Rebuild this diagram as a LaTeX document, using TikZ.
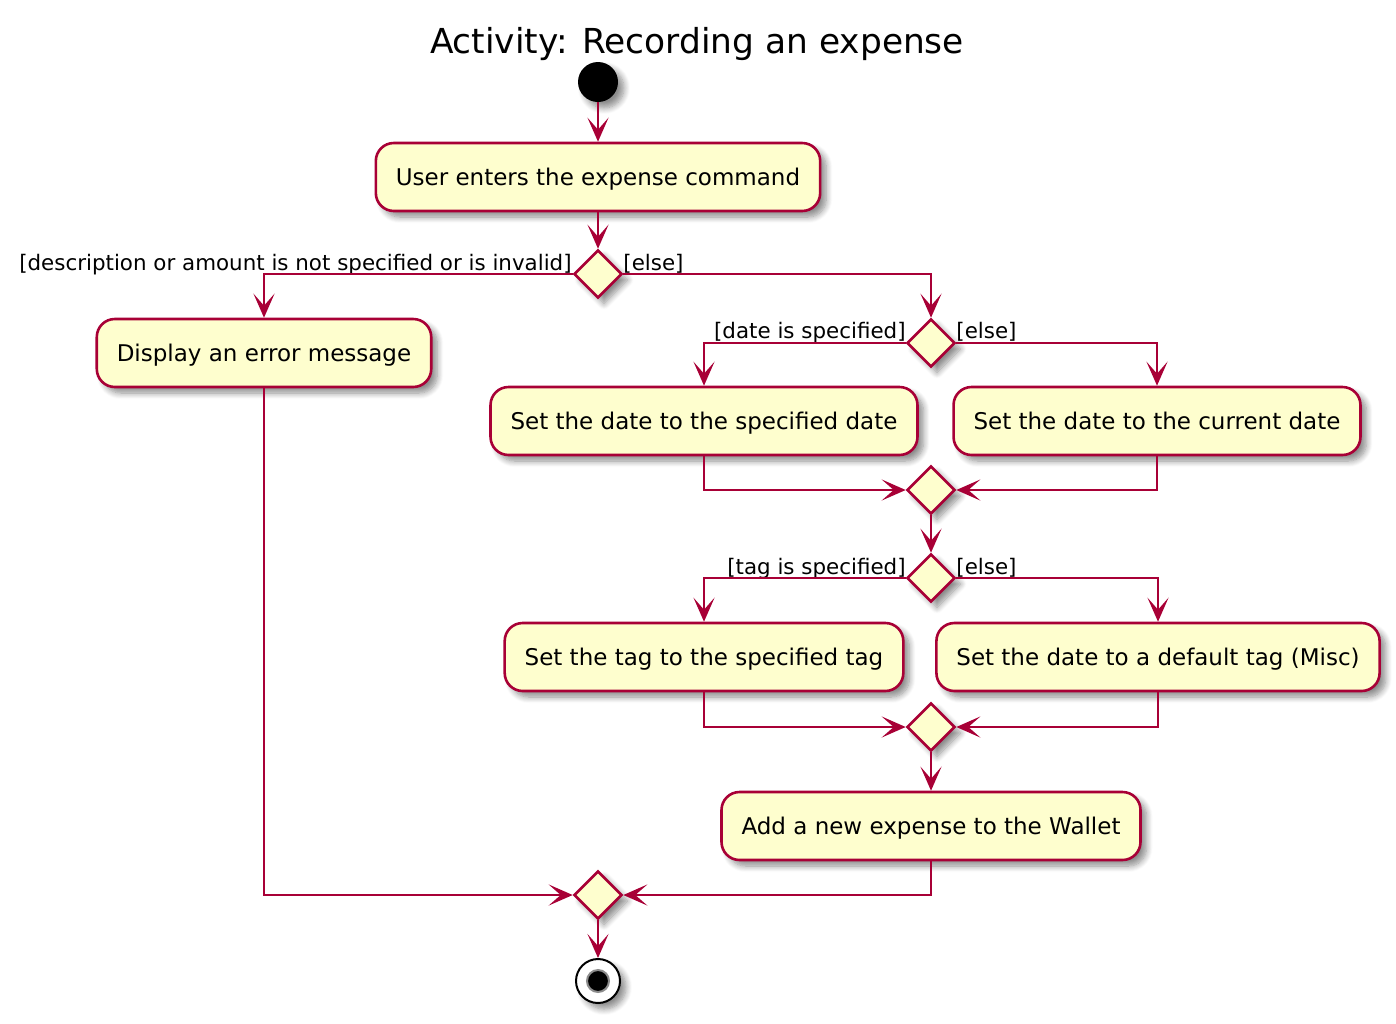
\documentclass[tikz,border=0pt]{standalone}
\usepackage{fontspec}
\setmainfont{DejaVu Sans}
\usetikzlibrary{shapes.geometric,arrows.meta,shadows.blur}

\definecolor{umlred}{HTML}{A80036}
\definecolor{umlfill}{HTML}{FEFECE}

\tikzset{
  shade/.style={blur shadow={shadow xshift=3pt,shadow yshift=-3pt,shadow blur radius=3pt,shadow blur steps=8,shadow opacity=45}},
  act/.style={draw=umlred,fill=umlfill,line width=1.3pt,rounded corners=9pt,minimum height=34pt,inner xsep=10pt,font=\fontsize{11.5}{14}\selectfont,text depth=0.5pt,shade},
  branch/.style={diamond,aspect=1,draw=umlred,fill=umlfill,line width=1.3pt,minimum width=24pt,minimum height=24pt,inner sep=0pt,shade},
  flow/.style={draw=umlred,line width=1.3pt,-{Stealth[length=12pt,width=10.5pt,inset=6pt]}},
  guard/.style={font=\fontsize{10.7}{12}\selectfont,inner sep=0pt},
}

\begin{document}
\begin{tikzpicture}[x=0.5pt,y=-0.5pt]
\useasboundingbox (0,0) rectangle (1396,1023);

\node[font=\fontsize{17.2}{20}\selectfont] (title) at (697,44) {Activity: Recording an expense};

\node[circle,fill=black,minimum size=20pt,inner sep=0pt,shade] (start) at (598,82) {};
\node[act] (enter) at (598,177) {User enters the expense command};
\node[branch] (d1) at (598,274) {};
\node[act] (err) at (264,353) {Display an error message};
\node[branch] (d2) at (931,343) {};
\node[act] (setdate) at (704,421) {Set the date to the specified date};
\node[act] (curdate) at (1157,421) {Set the date to the current date};
\node[branch] (m1) at (931,490) {};
\node[branch] (d3) at (931,578) {};
\node[act] (settag) at (704,657) {Set the tag to the specified tag};
\node[act] (deftag) at (1158,657) {Set the date to a default tag (Misc)};
\node[branch] (m2) at (931,727) {};
\node[act] (add) at (931,826) {Add a new expense to the Wallet};
\node[branch] (m3) at (598,895) {};
\node[circle,draw=black,fill=white,line width=1pt,minimum size=22pt,inner sep=0pt,shade] (stop) at (598,981) {};
\node[circle,fill=black,draw=black!45,line width=1pt,minimum size=11pt,inner sep=0pt] (stopdot) at (598,981) {};

% guards
\node[guard,anchor=base east] at (572,270) {[description or amount is not specified or is invalid]};
\node[guard,anchor=base west] at (623,270) {[else]};
\node[guard,anchor=base east] at (906,338) {[date is specified]};
\node[guard,anchor=base west] at (956,338) {[else]};
\node[guard,anchor=base east] at (906,574) {[tag is specified]};
\node[guard,anchor=base west] at (956,574) {[else]};

% flows
\draw[flow] (start) -- (enter);
\draw[flow] (enter) -- (d1);
\draw[flow] (d1.west) -| (err.north);
\draw[flow] (d1.east) -| (d2.north);
\draw[flow] (d2.west) -| (setdate.north);
\draw[flow] (d2.east) -| (curdate.north);
\draw[flow] (setdate.south) |- (m1.west);
\draw[flow] (curdate.south) |- (m1.east);
\draw[flow] (m1) -- (d3);
\draw[flow] (d3.west) -| (settag.north);
\draw[flow] (d3.east) -| (deftag.north);
\draw[flow] (settag.south) |- (m2.west);
\draw[flow] (deftag.south) |- (m2.east);
\draw[flow] (m2) -- (add);
\draw[flow] (err.south) |- (m3.west);
\draw[flow] (add.south) |- (m3.east);
\draw[flow] (m3) -- (stop);
\end{tikzpicture}
\end{document}
